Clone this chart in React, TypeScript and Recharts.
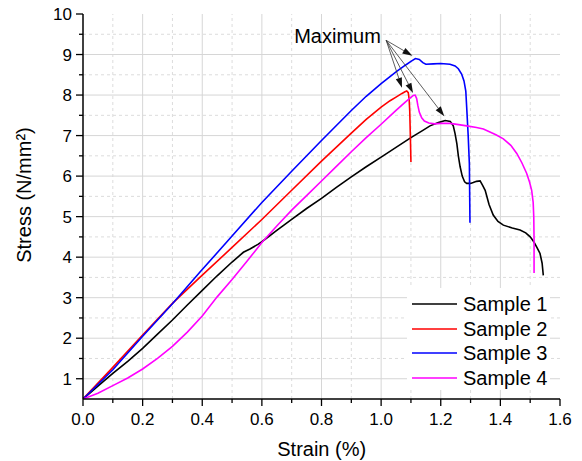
import React from 'react';
import { LineChart, Line, XAxis, YAxis, ReferenceLine, Legend } from 'recharts';

// ---------- data ----------
const strain1 = [0, 0.05, 0.1, 0.15, 0.2, 0.25, 0.3, 0.35, 0.4, 0.45, 0.5, 0.538, 0.56, 0.588, 0.6, 0.65, 0.7, 0.75, 0.8, 0.85, 0.9, 0.95, 1.0, 1.05, 1.1, 1.14, 1.164, 1.192, 1.215, 1.232, 1.242, 1.248, 1.254, 1.259, 1.265, 1.272, 1.28, 1.287, 1.3, 1.309, 1.32, 1.332, 1.34, 1.349, 1.362, 1.376, 1.392, 1.41, 1.44, 1.466, 1.485, 1.5, 1.512, 1.522, 1.533, 1.54, 1.544];
const stress1 = [0.5, 0.82, 1.13, 1.43, 1.75, 2.1, 2.45, 2.82, 3.18, 3.54, 3.88, 4.12, 4.2, 4.32, 4.38, 4.66, 4.93, 5.2, 5.45, 5.72, 5.98, 6.23, 6.47, 6.71, 6.95, 7.13, 7.24, 7.32, 7.37, 7.35, 7.24, 7.05, 6.8, 6.5, 6.23, 6.0, 5.86, 5.82, 5.82, 5.84, 5.87, 5.88, 5.78, 5.65, 5.3, 5.04, 4.88, 4.79, 4.72, 4.67, 4.6, 4.5, 4.38, 4.25, 4.09, 3.85, 3.55];

const strain2 = [0, 0.1, 0.2, 0.3, 0.392, 0.5, 0.6, 0.7, 0.8, 0.9, 0.95, 1.0, 1.03, 1.05, 1.07, 1.08, 1.086, 1.091, 1.094, 1.096, 1.098, 1.1];
const stress2 = [0.5, 1.28, 2.08, 2.86, 3.5, 4.24, 4.93, 5.65, 6.37, 7.06, 7.4, 7.7, 7.86, 7.95, 8.04, 8.08, 8.1, 8.06, 7.9, 7.6, 7.0, 6.35];

const strain3 = [0, 0.1, 0.2, 0.3, 0.391, 0.5, 0.6, 0.7, 0.8, 0.9, 0.95, 1.0, 1.05, 1.08, 1.1, 1.115, 1.128, 1.14, 1.15, 1.175, 1.2, 1.231, 1.248, 1.259, 1.27, 1.278, 1.284, 1.287, 1.292, 1.296, 1.298];
const stress3 = [0.5, 1.22, 2.05, 2.85, 3.62, 4.52, 5.35, 6.12, 6.88, 7.62, 7.97, 8.28, 8.57, 8.73, 8.83, 8.9, 8.88, 8.8, 8.76, 8.77, 8.78, 8.76, 8.72, 8.65, 8.52, 8.35, 8.1, 7.7, 7.0, 6.3, 4.85];

const strain4 = [0, 0.05, 0.1, 0.15, 0.2, 0.25, 0.3, 0.35, 0.4, 0.45, 0.5, 0.55, 0.6, 0.65, 0.7, 0.75, 0.8, 0.85, 0.9, 0.95, 1.0, 1.05, 1.08, 1.1, 1.108, 1.114, 1.119, 1.123, 1.128, 1.136, 1.145, 1.16, 1.18, 1.2, 1.231, 1.26, 1.287, 1.32, 1.343, 1.365, 1.385, 1.41, 1.435, 1.455, 1.472, 1.488, 1.498, 1.505, 1.51, 1.512, 1.513, 1.513];
const stress4 = [0.5, 0.64, 0.83, 1.02, 1.24, 1.5, 1.8, 2.15, 2.55, 3.02, 3.45, 3.9, 4.36, 4.77, 5.16, 5.52, 5.88, 6.24, 6.6, 6.95, 7.28, 7.62, 7.82, 7.94, 7.99, 8.0, 7.92, 7.75, 7.58, 7.44, 7.36, 7.31, 7.29, 7.3, 7.3, 7.27, 7.24, 7.2, 7.16, 7.09, 7.02, 6.92, 6.76, 6.56, 6.33, 6.07, 5.85, 5.65, 5.35, 5.0, 4.42, 3.61];

const seriesNames = ['Sample 1', 'Sample 2', 'Sample 3', 'Sample 4'];
const seriesColors = ['#000000', '#ff0000', '#0000ff', '#ff00ff'];

const xMajorTicks = [0, 0.2, 0.4, 0.6, 0.8, 1.0, 1.2, 1.4, 1.6];
const xTickLabels = ['0.0', '0.2', '0.4', '0.6', '0.8', '1.0', '1.2', '1.4', '1.6'];
const xMinorTicks = [0.1, 0.3, 0.5, 0.7, 0.9, 1.1, 1.3, 1.5];
const yMajorTicks = [1, 2, 3, 4, 5, 6, 7, 8, 9, 10];
const yTickLabels = ['1', '2', '3', '4', '5', '6', '7', '8', '9', '10'];
const yMinorTicks = [1.5, 2.5, 3.5, 4.5, 5.5, 6.5, 7.5, 8.5, 9.5];

const annotationText = 'Maximum';
const arrowStart = { x: 1.017, y: 9.35 };
const arrowTipsX = [1.105, 1.07, 1.107, 1.212];
const arrowTipsY = [8.97, 8.18, 8.05, 7.48];

const xTitle = 'Strain (%)';
const yTitle = 'Stress (N/mm²)';

// ---------- helpers ----------
const FONT = "'Liberation Sans', Arial, Helvetica, sans-serif";
const toPoints = (xs: number[], ys: number[]) => xs.map((x, i) => ({ x, y: ys[i] }));
const seriesData = [
  toPoints(strain1, stress1),
  toPoints(strain2, stress2),
  toPoints(strain3, stress3),
  toPoints(strain4, stress4),
];
const near = (a: number, b: number) => Math.abs(a - b) < 1e-6;
const xAllTicks = [...xMajorTicks, ...xMinorTicks].sort((a, b) => a - b);
const yAllTicks = [...yMajorTicks, ...yMinorTicks].sort((a, b) => a - b);

const XTick = (props: any) => {
  const { x, y, payload } = props;
  const idx = xMajorTicks.findIndex((t) => near(t, payload.value));
  const major = idx >= 0;
  return (
    <g>
      <line x1={x} x2={x} y1={y} y2={y + (major ? 7 : 4)} stroke="#000" strokeWidth={1.3} />
      {major && (
        <text x={x} y={y + 26} textAnchor="middle" fontSize={17} fontFamily={FONT} fill="#000">
          {xTickLabels[idx]}
        </text>
      )}
    </g>
  );
};

const YTick = (props: any) => {
  const { x, y, payload } = props;
  const idx = yMajorTicks.findIndex((t) => near(t, payload.value));
  const major = idx >= 0;
  return (
    <g>
      <line x1={x - (major ? 7 : 4)} x2={x} y1={y} y2={y} stroke="#000" strokeWidth={1.3} />
      {major && (
        <text x={x - 11} y={y + 6} textAnchor="end" fontSize={17} fontFamily={FONT} fill="#000">
          {yTickLabels[idx]}
        </text>
      )}
    </g>
  );
};

const ArrowShape = (props: any) => {
  const { x1, y1, x2, y2 } = props;
  if ([x1, y1, x2, y2].some((v) => typeof v !== 'number' || isNaN(v))) return null;
  const dx = x2 - x1;
  const dy = y2 - y1;
  const len = Math.sqrt(dx * dx + dy * dy) || 1;
  const ux = dx / len;
  const uy = dy / len;
  const hl = 10;
  const hw = 3.2;
  const bx = x2 - ux * hl;
  const by = y2 - uy * hl;
  const p1 = `${bx - uy * hw},${by + ux * hw}`;
  const p2 = `${bx + uy * hw},${by - ux * hw}`;
  return (
    <g>
      <line x1={x1} y1={y1} x2={bx} y2={by} stroke="#333" strokeWidth={0.8} />
      <polygon points={`${x2},${y2} ${p1} ${p2}`} fill="#111" />
    </g>
  );
};

const LegendContent = () => (
  <div style={{ position: 'relative', width: 143, height: 102, background: '#fff' }}>
    {seriesNames.map((name, i) => (
      <div
        key={name}
        style={{ position: 'absolute', left: 0, top: 16 + i * 24.7 - 12, height: 24, width: 143 }}
      >
        <svg width={52} height={24} style={{ position: 'absolute', left: 0, top: 0 }}>
          <line x1={5} x2={50} y1={12} y2={12} stroke={seriesColors[i]} strokeWidth={1.6} />
        </svg>
        <span
          style={{
            position: 'absolute',
            left: 56,
            top: 12,
            transform: 'translateY(-50%)',
            fontFamily: FONT,
            fontSize: 20,
            lineHeight: 1,
            whiteSpace: 'nowrap',
            color: '#000',
          }}
        >
          {name}
        </span>
      </div>
    ))}
  </div>
);

export default function App() {
  const W = 582;
  const H = 461;
  return (
    <div style={{ position: 'relative', width: W, height: H, marginTop: -8, marginLeft: -8, background: '#fff' }}>
      <LineChart width={W} height={H} margin={{ top: 14, right: 22, bottom: 0, left: 0 }}>
        <XAxis
          type="number"
          dataKey="x"
          domain={[0, 1.6]}
          ticks={xAllTicks}
          interval={0}
          allowDataOverflow
          tick={<XTick />}
          tickLine={false}
          tickSize={0}
          tickMargin={0}
          height={62}
          axisLine={{ stroke: '#000', strokeWidth: 1.5 }}
        />
        <YAxis
          type="number"
          dataKey="y"
          domain={[0.5, 10]}
          ticks={yAllTicks}
          interval={0}
          allowDataOverflow
          tick={<YTick />}
          tickLine={false}
          tickSize={0}
          tickMargin={0}
          width={83}
          axisLine={{ stroke: '#000', strokeWidth: 1.5 }}
        />
        {xMinorTicks.map((v) => (
          <ReferenceLine key={`xm${v}`} x={v} stroke="#dcdcdc" strokeDasharray="3 3" strokeWidth={1} />
        ))}
        {yMinorTicks.map((v) => (
          <ReferenceLine key={`ym${v}`} y={v} stroke="#dcdcdc" strokeDasharray="3 3" strokeWidth={1} />
        ))}
        {xMajorTicks.slice(1, -1).map((v) => (
          <ReferenceLine key={`xM${v}`} x={v} stroke="#d6d6d6" strokeWidth={1} />
        ))}
        {yMajorTicks.slice(0, -1).map((v) => (
          <ReferenceLine key={`yM${v}`} y={v} stroke="#d6d6d6" strokeWidth={1} />
        ))}
        {seriesData.map((d, i) => (
          <Line
            key={seriesNames[i]}
            data={d}
            dataKey="y"
            name={seriesNames[i]}
            type="linear"
            stroke={seriesColors[i]}
            strokeWidth={1.6}
            dot={false}
            activeDot={false}
            isAnimationActive={false}
          />
        ))}
        {arrowTipsX.map((tx, i) => (
          <ReferenceLine
            key={`arrow${i}`}
            segment={[arrowStart, { x: tx, y: arrowTipsY[i] }]}
            ifOverflow="visible"
            shape={ArrowShape}
          />
        ))}
        <Legend
          layout="vertical"
          align="center"
          verticalAlign="middle"
          content={<LegendContent />}
          wrapperStyle={{ left: 407, top: 288, width: 143, height: 102 }}
        />
      </LineChart>
      <div
        style={{
          position: 'absolute', left: 337.5, top: 36, transform: 'translate(-50%, -50%)',
          fontFamily: FONT, fontSize: 20, lineHeight: 1, whiteSpace: 'nowrap', color: '#000',
        }}
      >
        {annotationText}
      </div>
      <div
        style={{
          position: 'absolute', left: 321.7, top: 449, transform: 'translate(-50%, -50%)',
          fontFamily: FONT, fontSize: 20, lineHeight: 1, whiteSpace: 'nowrap', color: '#000',
        }}
      >
        {xTitle}
      </div>
      <div
        style={{
          position: 'absolute', left: 24, top: 195, transform: 'translate(-50%, -50%) rotate(-90deg)',
          fontFamily: FONT, fontSize: 20, lineHeight: 1, whiteSpace: 'nowrap', color: '#000',
        }}
      >
        {yTitle}
      </div>
    </div>
  );
}
